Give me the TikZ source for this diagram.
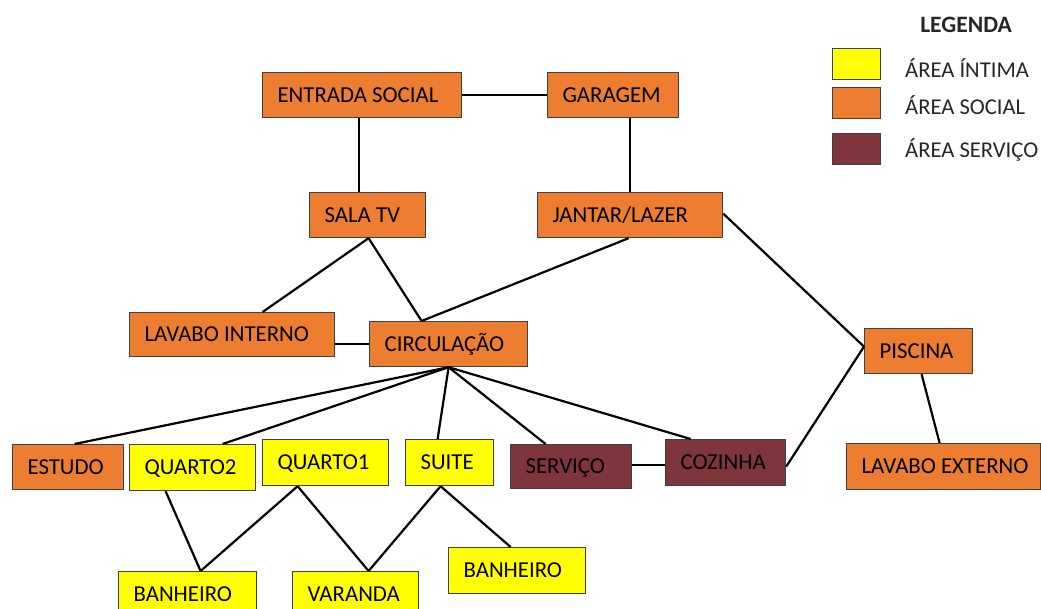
\documentclass[tikz,border=0pt]{standalone}
\usepackage{fontspec}
\setmainfont{Carlito}
\definecolor{intima}{HTML}{FFFF00}
\definecolor{social}{HTML}{ED7D31}
\definecolor{servico}{HTML}{7E363C}
\definecolor{legtext}{HTML}{262626}
\begin{document}
\begin{tikzpicture}[x=1pt,y=-1pt,
  room/.style 2 args={draw=black!75, line width=1.2pt, fill=#1, anchor=north west,
    inner xsep=15pt, inner ysep=0pt, text width=#2, align=flush left,
    text height=14.6pt, text depth=0pt,
    execute at begin node={\hyphenpenalty=10000\exhyphenpenalty=10000\hbadness=10000\hfuzz=50pt},
    font=\fontsize{22.8}{24}\selectfont},
  link/.style={line width=2.2pt, black},
  swatch/.style={draw=black!75, line width=1.2pt, fill=#1, anchor=north west,
    minimum width=48pt, minimum height=31pt, inner sep=0pt},
  legtxt/.style={anchor=west, text=legtext, font=\fontsize{22.6}{24}\selectfont, inner sep=0pt}]
\clip (0,0) rectangle (1041,609);
% rooms
\node[room={social}{169pt}, minimum height=45pt] (es) at (262,72) {\mbox{ENTRADA SOCIAL}};
\node[room={social}{101pt}, minimum height=45pt] (gar) at (547,72) {GARAGEM};
\node[room={social}{86pt}, minimum height=45pt] (sala) at (309,192) {\mbox{SALA TV}};
\node[room={social}{155pt}, minimum height=45pt] (jan) at (537,192) {\mbox{JANTAR/LAZER}};
\node[room={social}{175pt}, minimum height=44pt] (lavi) at (129,312) {\mbox{LAVABO INTERNO}};
\node[room={social}{128pt}, minimum height=45pt] (circ) at (369,321) {\mbox{CIRCULAÇÃO}};
\node[room={social}{78pt}, minimum height=45pt] (pisc) at (864,328) {\mbox{PISCINA}};
\node[room={social}{81pt}, minimum height=45pt] (est) at (12,444) {\mbox{ESTUDO}};
\node[room={intima}{96pt}, minimum height=46pt] (q2) at (129,444) {\mbox{QUARTO2}};
\node[room={intima}{96pt}, minimum height=46pt] (q1) at (262,439) {\mbox{QUARTO1}};
\node[room={intima}{58pt}, minimum height=46pt] (suite) at (405,439) {\mbox{SUITE}};
\node[room={servico}{91pt}, minimum height=44pt] (serv) at (510,444) {\mbox{SERVIÇO}};
\node[room={servico}{90pt}, minimum height=46pt] (coz) at (665,439) {\mbox{COZINHA}};
\node[room={social}{164pt}, minimum height=46pt] (lave) at (846,443) {\mbox{LAVABO EXTERNO}};
\node[room={intima}{108pt}, minimum height=45pt] (ban1) at (118,571) {\mbox{BANHEIRO}};
\node[room={intima}{96pt}, minimum height=45pt] (var) at (292,571) {\mbox{VARANDA}};
\node[room={intima}{107pt}, minimum height=46pt] (ban2) at (448,547) {\mbox{BANHEIRO}};
% connectors
\draw[link] (es.east) -- (gar.west);
\draw[link] ([xshift=-3pt]es.south) -- ([xshift=-3pt]es.south |- sala.north);
\draw[link] ([xshift=16.5pt]gar.south) -- ([xshift=16.5pt]gar.south |- jan.north);
\draw[link] ([xshift=1pt]sala.south) -- ([xshift=30.5pt]lavi.north);
\draw[link] ([xshift=1pt]sala.south) -- ([xshift=-27pt]circ.north);
\draw[link] ([xshift=-1.5pt]jan.south) -- ([xshift=-27pt]circ.north);
\draw[link] ([yshift=1.5pt]jan.east) -- ([yshift=4.5pt]pisc.west);
\draw[link] (circ.west) -- (circ.west -| lavi.east);
\draw[link] (circ.south) -- ([xshift=6.5pt]est.north);
\draw[link] (circ.south) -- ([xshift=30pt]q2.north);
\draw[link] (circ.south) -- ([xshift=-12pt]suite.north);
\draw[link] (circ.south) -- ([xshift=-25.5pt]serv.north);
\draw[link] (circ.south) -- ([xshift=-35pt]coz.north);
\draw[link] ([yshift=-2pt]coz.west) -- ([yshift=-2pt]coz.west -| serv.east);
\draw[link] ([yshift=-4pt]coz.east) -- ([yshift=4.5pt]pisc.west);
\draw[link] ([xshift=3pt]pisc.south) -- ([xshift=-4pt]lave.north);
\draw[link] ([xshift=-27pt]q2.south) -- ([xshift=13pt]ban1.north);
\draw[link] ([xshift=-28pt]q1.south) -- ([xshift=13pt]ban1.north);
\draw[link] ([xshift=-28pt]q1.south) -- ([xshift=13pt]var.north);
\draw[link] ([xshift=-9pt]suite.south) -- ([xshift=13pt]var.north);
\draw[link] ([xshift=-9pt]suite.south) -- ([xshift=-6.5pt]ban2.north);
% legend
\node[anchor=center, text=legtext, font=\bfseries\fontsize{23.5}{24}\selectfont, inner sep=0pt] (legtitle) at (966,25) {LEGENDA};
\node[swatch=intima] (sw1) at (832,48) {};
\node[swatch=social] (sw2) at (832,87) {};
\node[swatch=servico] (sw3) at (832,133) {};
\node[legtxt] (lt1) at (905,68) {ÁREA ÍNTIMA};
\node[legtxt] (lt2) at (905,105) {ÁREA SOCIAL};
\node[legtxt] (lt3) at (905,150) {ÁREA SERVIÇO};
\end{tikzpicture}
\end{document}
